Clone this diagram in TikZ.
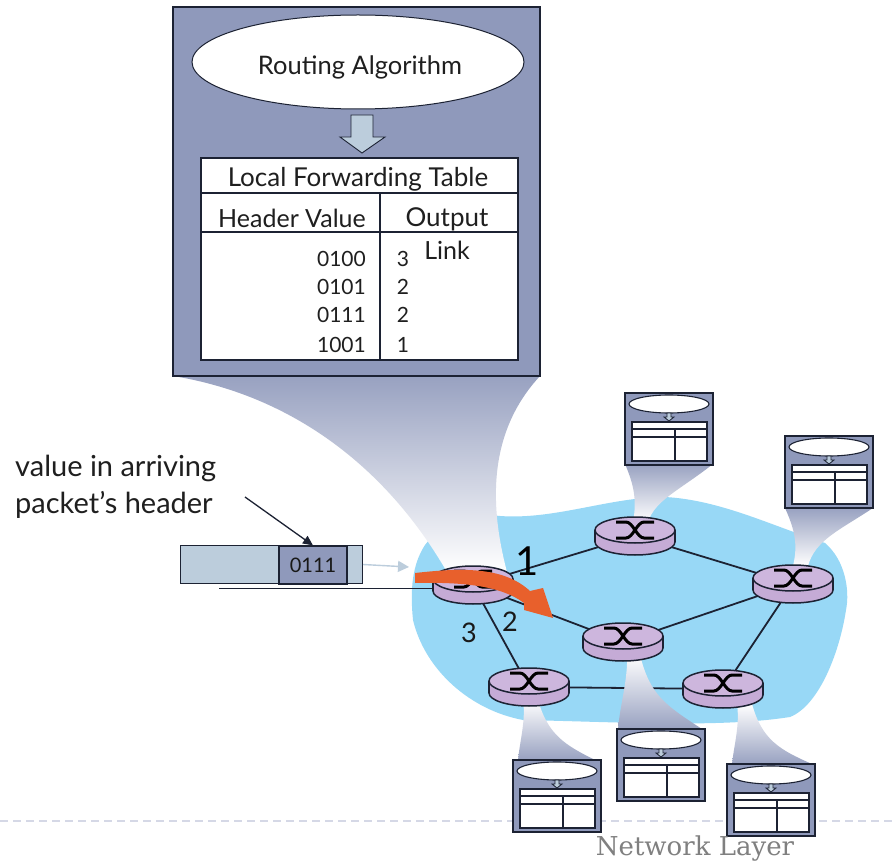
\documentclass[tikz,border=0pt]{standalone}
\usepackage{fontspec}
\setmainfont{Lato}
\newfontfamily\netfont{DejaVu Serif}
\usetikzlibrary{shapes.geometric,arrows.meta}
\definecolor{slate}{HTML}{8F99BB}
\definecolor{edgeink}{HTML}{1C2233}
\definecolor{cloudblue}{HTML}{98D8F6}
\definecolor{lilac}{HTML}{CDB6DD}
\definecolor{lilacdark}{HTML}{C5ABD6}
\definecolor{paleblue}{HTML}{BCCDDC}
\definecolor{flow}{HTML}{E8602C}
\definecolor{rulegray}{HTML}{D5D8E6}
\newcommand{\fs}[1]{\fontsize{#1}{#1}\selectfont}
\tikzset{
  anchorbox/.style={ellipse,minimum width=80pt,minimum height=36pt,inner sep=0pt},
  linkline/.style={draw=edgeink,line width=1.8pt},
  flareup/.style={top color=slate!92,bottom color=white},
  flaredown/.style={top color=white,bottom color=slate!92},
  framebox/.style={draw=edgeink,fill=slate},
  tableline/.style={draw=edgeink,line width=1.1pt},
  txt/.style={inner sep=0pt,text=black!88},
}
\newcommand{\routergfx}[2]{%
  \begin{scope}[shift={(#1,#2)}]
    \fill[lilacdark] (-40,0) rectangle (40,12);
    \draw[edgeink,line width=1.5pt,fill=lilacdark] (0,12) ellipse [x radius=40,y radius=13];
    \fill[lilacdark] (-39,0) rectangle (39,12);
    \draw[edgeink,line width=1.5pt] (-40,0) -- (-40,12) (40,0) -- (40,12);
    \draw[edgeink,line width=1.5pt,fill=lilac] (0,0) ellipse [x radius=40,y radius=13];
    \draw[black,line width=3pt] (-19,-8) -- (-9,-8) .. controls (-2,-8) and (2,8) .. (9,8) -- (19,8);
    \draw[black,line width=3pt] (-19,8) -- (-9,8) .. controls (-2,8) and (2,-8) .. (9,-8) -- (19,-8);
  \end{scope}}
\newcommand{\minitable}[2]{%
  \begin{scope}[shift={(#1,#2)}]
    \draw[framebox,line width=1.8pt] (0,0) rectangle (88,72);
    \draw[edgeink,line width=1.1pt,fill=white] (44,11) ellipse [x radius=40,y radius=9];
    \draw[edgeink,line width=.8pt,fill=paleblue] (42,20) -- (46,20) -- (46,24) -- (49,24) -- (44,28) -- (39,24) -- (42,24) -- cycle;
    \draw[tableline,fill=white] (7,29) rectangle (82,68);
    \draw[tableline] (7,36) -- (82,36) (7,44) -- (82,44) (50,36) -- (50,68);
  \end{scope}}
\begin{document}
\begin{tikzpicture}[x=1pt,y=-1pt]
\useasboundingbox (0,0) rectangle (892,866);
\fill[white] (0,0) rectangle (892,866);
% dashed footer rule
\coordinate (ruleL) at (0,821);
\coordinate (ruleR) at (892,821);
\draw[draw=rulegray,line width=1.3pt,dash pattern=on 8pt off 5pt] (ruleL) -- (ruleR);
% cloud
\fill[cloudblue] (425,545) .. controls (440,525) and (470,512) .. (500,516)
  .. controls (555,520) and (610,497) .. (665,497)
  .. controls (720,500) and (770,525) .. (825,543)
  .. controls (845,560) and (850,590) .. (846,610)
  .. controls (840,650) and (820,705) .. (790,717)
  .. controls (720,728) and (620,722) .. (523,720)
  .. controls (470,710) and (425,670) .. (413,620)
  .. controls (410,590) and (412,565) .. (425,545) -- cycle;
% router anchors
\node[anchorbox] (main) at (473,585) {};
\node[anchorbox] (rtop) at (635,536) {};
\node[anchorbox] (rright) at (793,584) {};
\node[anchorbox] (rmid) at (623,642) {};
\node[anchorbox] (rll) at (529,687) {};
\node[anchorbox] (rlr) at (723,689) {};
% links
\path[linkline] (main) -- (rtop);
\path[linkline] (main) -- (rmid);
\path[linkline] (main) -- (rll);
\path[linkline] (rll) -- (rlr);
\path[linkline] (rtop) -- (rright);
\path[linkline] (rmid) -- (rright);
\path[linkline] (rlr) -- (rright);
% flares
\shade[flareup] (173,376) .. controls (290,395) and (385,465) .. (447,572)
  -- (507,572) .. controls (488,500) and (490,430) .. (540,376) -- cycle;
\shade[flareup] (625,464) .. controls (634,485) and (637,500) .. (633,522)
  -- (648,522) .. controls (655,500) and (680,490) .. (713,464) -- cycle;
\shade[flareup] (785,508) .. controls (795,530) and (798,545) .. (793,566)
  -- (808,566) .. controls (815,540) and (840,530) .. (873,508) -- cycle;
\shade[flaredown] (627,655) -- (640,655) .. controls (650,695) and (665,705) .. (702,729)
  -- (618,729) .. controls (620,705) and (628,680) .. (627,655) -- cycle;
\shade[flaredown] (523,700) -- (538,700) .. controls (548,735) and (565,745) .. (595,760)
  -- (518,760) .. controls (520,740) and (526,720) .. (523,700) -- cycle;
\shade[flaredown] (737,704) -- (752,704) .. controls (762,740) and (780,750) .. (812,764)
  -- (732,764) .. controls (734,745) and (740,725) .. (737,704) -- cycle;
% routers
\routergfx{635}{530}
\routergfx{793}{578}
\routergfx{623}{636}
\routergfx{529}{681}
\routergfx{723}{683}
\routergfx{473}{579}
% mini tables
\minitable{625}{393}
\minitable{785}{436}
\minitable{513}{760}
\minitable{617}{729}
\minitable{727}{764}
% big box
\draw[framebox,line width=2.6pt] (173,7) rectangle (540,376);
\node[ellipse,draw=edgeink,line width=1pt,fill=white,minimum width=332pt,minimum height=94pt,inner sep=0pt] (algo) at (358,62) {};
\node[txt] (algotext) at (360,67) {\fs{25.5}Routing Algorithm};
\draw[edgeink,line width=.9pt,fill=paleblue] (351,115) -- (373,115) -- (373,137) -- (385,137) -- (362,153) -- (340,137) -- (351,137) -- cycle;
\draw[tableline,fill=white] (201,158) rectangle (518,360);
\draw[tableline] (201,193) -- (518,193) (201,232) -- (518,232) (380,193) -- (380,360);
\node[txt] (tabtitle) at (358,179) {\fs{26}Local Forwarding Table};
\node[txt] (hdrval) at (292,218) {\fs{25}Header Value};
\node[txt] (outhdr) at (447,219) {\fs{26}Output};
\node[txt] (linkhdr) at (447,250) {\fs{25}Link};
\node[txt,anchor=east] (v1) at (366,259) {\fs{21}0100};
\node[txt,anchor=east] (v2) at (366,287) {\fs{21}0101};
\node[txt,anchor=east] (v3) at (366,315) {\fs{21}0111};
\node[txt,anchor=east] (v4) at (366,345) {\fs{21}1001};
\node[txt] (o1) at (403,259) {\fs{21}3};
\node[txt] (o2) at (403,287) {\fs{21}2};
\node[txt] (o3) at (403,315) {\fs{21}2};
\node[txt] (o4) at (403,345) {\fs{21}1};
% packet
\node[anchor=south west,inner sep=0pt,draw=edgeink,line width=1pt,fill=paleblue,minimum width=182pt,minimum height=38pt] (pkt) at (180,584) {};
\node[draw=edgeink,line width=1.2pt,fill=slate,minimum width=68pt,minimum height=38pt,inner sep=0pt,text=black!90] (field) at (313,565) {\fs{20}0111};
\coordinate (underL) at (219,588);
\coordinate (underR) at (433,588);
\draw[edgeink,line width=1pt] (underL) -- (underR);
\coordinate (inTip) at (409,567);
\draw[paleblue,line width=1.4pt,-{Triangle[length=11pt,width=11pt]}] (pkt.east) -- (inTip);
\node[txt,anchor=west] (lab1) at (15,468) {\fs{29}value in arriving};
\node[txt,anchor=west] (lab2) at (15,505) {\fs{29}packet’s header};
\coordinate (labArrow) at (245,497);
\draw[edgeink,line width=1.3pt,-{Triangle[length=10pt,width=9pt]}] (labArrow) -- (field.north);
% forwarding arrow
\fill[flow] (415,573) .. controls (460,568) and (503,566) .. (530,591)
  -- (543,588) -- (553,618) -- (524,610) -- (524,603)
  .. controls (500,585) and (460,582) .. (415,583) -- cycle;
% port labels
\node[txt,text=black] (p1) at (527,561) {\fs{40}1};
\node[txt,text=black!90] (p2) at (510,622) {\fs{27}2};
\node[txt,text=black!90] (p3) at (469,633) {\fs{27}3};
\node[inner sep=0pt,text=black!50,anchor=center] (footer) at (695,849) {\fs{26}\netfont Network Layer};
\end{tikzpicture}
\end{document}
